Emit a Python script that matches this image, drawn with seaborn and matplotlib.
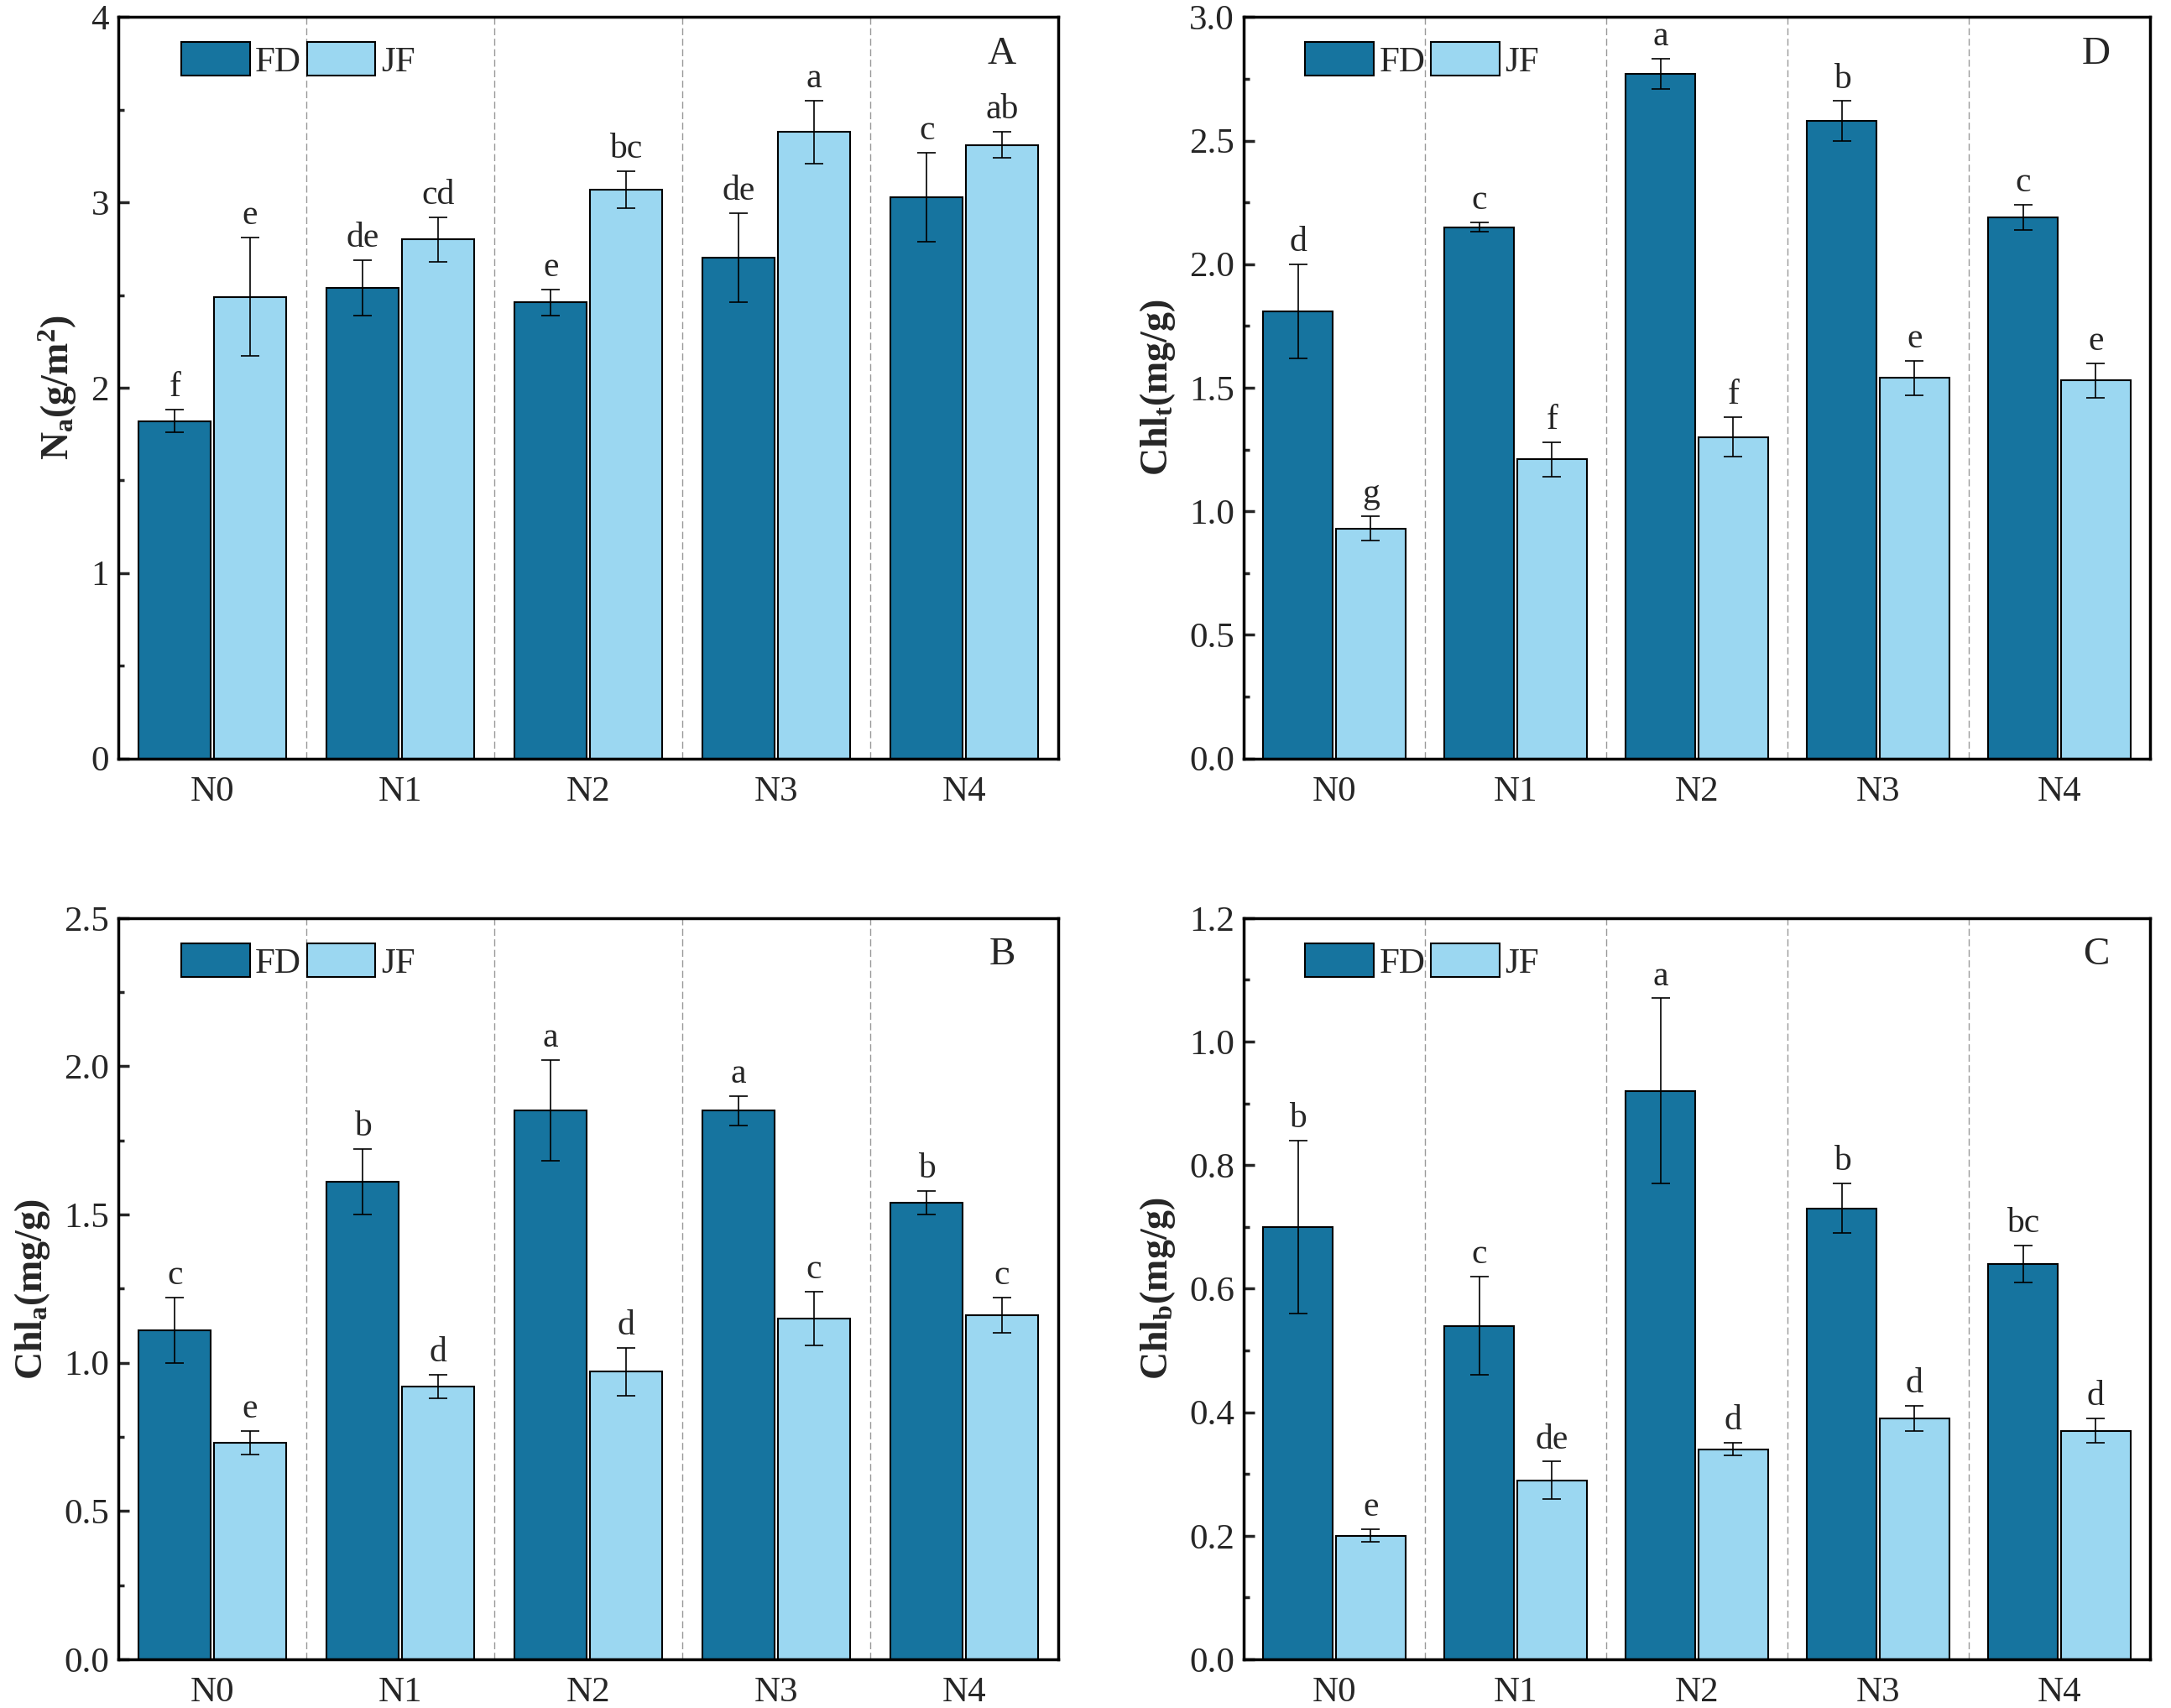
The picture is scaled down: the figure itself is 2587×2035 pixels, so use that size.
import numpy as np
import pandas as pd
import matplotlib
matplotlib.use("Agg")
import matplotlib.pyplot as plt
import seaborn as sns

# Dados
grupos = ["N0", "N1", "N2", "N3", "N4"]
cultivares = ["FD", "JF"]

# A - Na (g/m2)
na_fd = [1.82, 2.54, 2.46, 2.70, 3.03]
na_fd_err = [0.06, 0.15, 0.07, 0.24, 0.24]
na_jf = [2.49, 2.80, 3.07, 3.38, 3.31]
na_jf_err = [0.32, 0.12, 0.10, 0.17, 0.07]
na_fd_let = ["f", "de", "e", "de", "c"]
na_jf_let = ["e", "cd", "bc", "a", "ab"]

# D - Chlt (mg/g)
chlt_fd = [1.81, 2.15, 2.77, 2.58, 2.19]
chlt_fd_err = [0.19, 0.02, 0.06, 0.08, 0.05]
chlt_jf = [0.93, 1.21, 1.30, 1.54, 1.53]
chlt_jf_err = [0.05, 0.07, 0.08, 0.07, 0.07]
chlt_fd_let = ["d", "c", "a", "b", "c"]
chlt_jf_let = ["g", "f", "f", "e", "e"]

# B - Chla (mg/g)
chla_fd = [1.11, 1.61, 1.85, 1.85, 1.54]
chla_fd_err = [0.11, 0.11, 0.17, 0.05, 0.04]
chla_jf = [0.73, 0.92, 0.97, 1.15, 1.16]
chla_jf_err = [0.04, 0.04, 0.08, 0.09, 0.06]
chla_fd_let = ["c", "b", "a", "a", "b"]
chla_jf_let = ["e", "d", "d", "c", "c"]

# C - Chlb (mg/g)
chlb_fd = [0.70, 0.54, 0.92, 0.73, 0.64]
chlb_fd_err = [0.14, 0.08, 0.15, 0.04, 0.03]
chlb_jf = [0.20, 0.29, 0.34, 0.39, 0.37]
chlb_jf_err = [0.01, 0.03, 0.01, 0.02, 0.02]
chlb_fd_let = ["b", "c", "a", "b", "bc"]
chlb_jf_let = ["e", "de", "d", "d", "d"]

cores = {"FD": "#16749F", "JF": "#9BD7F1"}

###########################
# Estilo
###########################
sns.set_theme(style="white")
plt.rcParams["font.family"] = ["Liberation Serif", "DejaVu Serif"]
plt.rcParams["mathtext.default"] = "regular"
plt.rcParams["axes.linewidth"] = 2.5


def painel(ax, fd, fd_err, jf, jf_err, fd_let, jf_let, ylim, major, minor,
           ylabel, letra, fmt):
    df = pd.DataFrame({
        "grupo": grupos * 2,
        "cultivar": ["FD"] * 5 + ["JF"] * 5,
        "valor": fd + jf,
    })
    sns.barplot(data=df, x="grupo", y="valor", hue="cultivar",
                hue_order=cultivares, order=grupos, palette=cores,
                errorbar=None, width=0.8, gap=0.04, edgecolor="black",
                linewidth=1.5, saturation=1, ax=ax)

    # barras de erro e letras de significância
    for cont, vals, errs, lets in zip(ax.containers[:2], [fd, jf],
                                      [fd_err, jf_err], [fd_let, jf_let]):
        xs = [p.get_x() + p.get_width() / 2 for p in cont.patches]
        ax.errorbar(xs, vals, yerr=errs, fmt="none", ecolor="black",
                    elinewidth=1.2, capsize=8, capthick=1.2, zorder=5)
        for x, v, e, t in zip(xs, vals, errs, lets):
            ax.annotate(t, (x, v + e), xytext=(0, 5), textcoords="offset points",
                        ha="center", va="bottom", fontsize=30)

    # separadores tracejados
    for s in [0.5, 1.5, 2.5, 3.5]:
        ax.axvline(s, color="#999999", lw=1, ls=(0, (6, 3)), zorder=0)

    ax.set_xlim(-0.5, 4.5)
    ax.set_ylim(*ylim)
    ax.set_yticks(np.arange(ylim[0], ylim[1] + major / 2, major))
    ax.set_yticks(np.arange(ylim[0], ylim[1] + minor / 2, minor), minor=True)
    ax.set_yticklabels([fmt.format(v) for v in ax.get_yticks()])
    ax.tick_params(axis="y", which="major", direction="in", length=9, width=2.5,
                   labelsize=31, left=True, pad=8)
    ax.tick_params(axis="y", which="minor", direction="in", length=5, width=2.5,
                   left=True)
    ax.tick_params(axis="x", length=0, labelsize=31, pad=15)
    ax.set_xlabel("")
    ax.set_ylabel(ylabel, fontsize=33, fontweight="bold", labelpad=10)
    for sp in ax.spines.values():
        sp.set_visible(True)
        sp.set_color("black")
        sp.set_linewidth(2.5)

    h, l = ax.get_legend_handles_labels()
    ax.legend(h, l, loc="upper left", bbox_to_anchor=(0.04, 1.0), ncol=2,
              frameon=False, fontsize=31, handlelength=1.9, handleheight=1.05,
              handletextpad=0.15, columnspacing=0.15, borderaxespad=0.3)
    ax.text(0.94, 0.95, letra, transform=ax.transAxes, ha="center",
            va="center", fontsize=34)


fig = plt.figure(figsize=(25.87, 20.35), dpi=100)
ax_a = fig.add_axes([0.0545, 0.556, 0.433, 0.434])
ax_d = fig.add_axes([0.5729, 0.556, 0.4175, 0.434])
ax_b = fig.add_axes([0.0545, 0.0285, 0.433, 0.434])
ax_c = fig.add_axes([0.5729, 0.0285, 0.4175, 0.434])

painel(ax_a, na_fd, na_fd_err, na_jf, na_jf_err, na_fd_let, na_jf_let,
       (0, 4), 1, 0.5, "N$_a$(g/m$^2$)", "A", "{:.0f}")
painel(ax_d, chlt_fd, chlt_fd_err, chlt_jf, chlt_jf_err, chlt_fd_let,
       chlt_jf_let, (0, 3.0), 0.5, 0.25, "Chl$_t$(mg/g)", "D", "{:.1f}")
painel(ax_b, chla_fd, chla_fd_err, chla_jf, chla_jf_err, chla_fd_let,
       chla_jf_let, (0, 2.5), 0.5, 0.25, "Chl$_a$(mg/g)", "B", "{:.1f}")
painel(ax_c, chlb_fd, chlb_fd_err, chlb_jf, chlb_jf_err, chlb_fd_let,
       chlb_jf_let, (0, 1.2), 0.2, 0.1, "Chl$_b$(mg/g)", "C", "{:.1f}")

fig.savefig("out.png", dpi=100, facecolor="white")
